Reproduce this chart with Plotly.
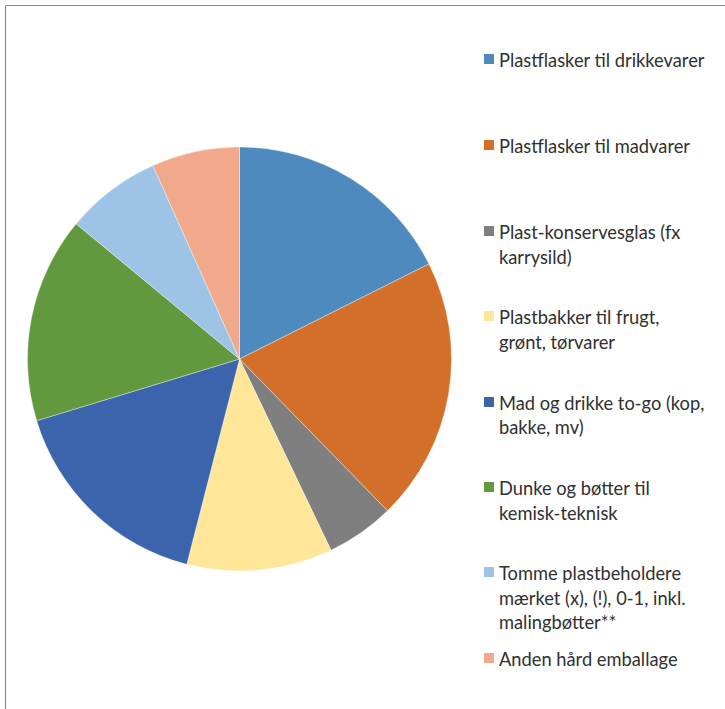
import plotly.graph_objects as go

# Share of hard plastic packaging by category (%)
categories = [
    "Plastflasker til drikkevarer",
    "Plastflasker til madvarer",
    "Plast-konservesglas (fx<br>karrysild)",
    "Plastbakker til frugt,<br>grønt, tørvarer",
    "Mad og drikke to-go (kop,<br>bakke, mv)",
    "Dunke og bøtter til<br>kemisk-teknisk",
    "Tomme plastbeholdere<br>mærket (x), (!), 0-1, inkl.<br>malingbøtter**",
    "Anden hård emballage",
]
shares = [17.6, 20.1, 5.2, 11.1, 16.3, 15.7, 7.3, 6.7]
colors = ["#4E8ABE", "#D36F2A", "#7F7F7F", "#FFE699",
          "#3C64AC", "#63993E", "#9DC3E6", "#F0A98B"]

W, H = 725, 709

fig = go.Figure()
fig.add_trace(go.Pie(
    labels=[c.replace("<br>", " ") for c in categories],
    values=shares,
    sort=False,
    direction="clockwise",
    rotation=0,
    textinfo="none",
    hoverinfo="label+percent",
    marker=dict(colors=colors, line=dict(color="rgba(255,255,255,0.6)", width=0.6)),
    domain=dict(x=[27.5 / W, 451.5 / W], y=[1 - 571 / H, 1 - 147 / H]),
    showlegend=False,
))

# Legend drawn as marker squares + text lines, first-line centres in pixels
first_line_y = [59, 145, 231, 316, 402, 487, 572, 658]
line_step = 24.5
shapes = []
annotations = []
for name, col, yc in zip(categories, colors, first_line_y):
    shapes.append(dict(
        type="rect", xref="paper", yref="paper",
        x0=484 / W, x1=494 / W, y0=1 - (yc + 5) / H, y1=1 - (yc - 5) / H,
        fillcolor=col, line=dict(width=0),
    ))
    for i, line in enumerate(name.split("<br>")):
        annotations.append(dict(
            xref="paper", yref="paper", x=497 / W, y=1 - (yc + i * line_step + 1) / H,
            xanchor="left", yanchor="middle", align="left", showarrow=False,
            text=line, font=dict(family="Lato, Noto Sans, sans-serif", size=18.3, color="#303030"),
        ))

# Chart frame (top and left edges visible)
shapes.append(dict(type="line", xref="paper", yref="paper",
                   x0=5.5 / W, x1=1, y0=1 - 5.5 / H, y1=1 - 5.5 / H,
                   line=dict(color="#8C8C8C", width=1.2)))
shapes.append(dict(type="line", xref="paper", yref="paper",
                   x0=5.5 / W, x1=5.5 / W, y0=0, y1=1 - 5.5 / H,
                   line=dict(color="#8C8C8C", width=1.2)))

fig.update_layout(
    width=W, height=H,
    margin=dict(l=0, r=0, t=0, b=0),
    paper_bgcolor="white", plot_bgcolor="white",
    shapes=shapes, annotations=annotations,
)

fig.write_html("out.html")
